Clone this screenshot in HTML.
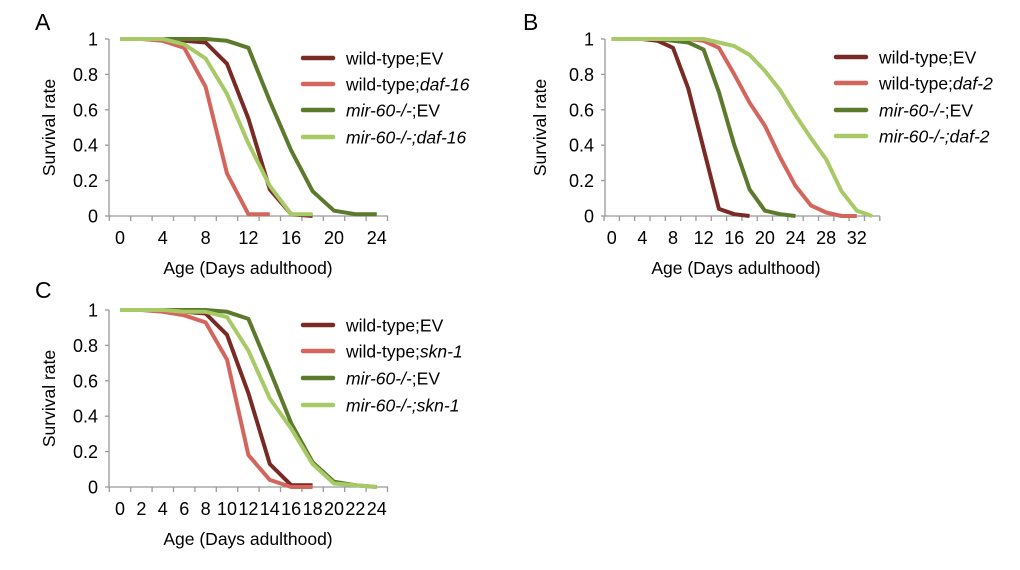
<!DOCTYPE html>
<html><head><meta charset="utf-8">
<style>
html,body{margin:0;padding:0;background:#fff;}
svg{display:block;font-family:"Liberation Sans",Arial,sans-serif;}
</style></head>
<body>
<svg id="fig" width="1020" height="570" viewBox="0 0 1020 570"></svg>
<script>
// ---- Panel A data (days adulthood, survival) ----
const daysA = [0,2,4,6,8,10,12,14,16,18,20,22,24];
const aWtEV    = [1,1,1,0.99,0.98,0.86,0.55,0.15,0.01,0.0,null,null,null];
const aWtDaf16 = [1,1,0.99,0.95,0.73,0.24,0.01,0.01,null,null,null,null,null];
const aMirEV   = [1,1,1,1,1,0.99,0.95,0.65,0.37,0.14,0.03,0.01,0.01];
const aMirDaf16= [1,1,1,0.97,0.89,0.69,0.41,0.17,0.01,0.01,null,null,null];
// ---- Panel B data ----
const daysB = [0,2,4,6,8,10,12,14,16,18,20,22,24,26,28,30,32,34];
const bWtEV    = [1,1,1,0.99,0.95,0.72,0.38,0.04,0.01,0,null,null,null,null,null,null,null,null];
const bWtDaf2  = [1,1,1,1,1,1,0.99,0.95,0.8,0.64,0.51,0.33,0.17,0.06,0.02,0,0,null];
const bMirEV   = [1,1,1,1,0.99,0.98,0.94,0.7,0.4,0.15,0.03,0.01,0,null,null,null,null,null];
const bMirDaf2 = [1,1,1,1,1,1,1,0.98,0.96,0.91,0.82,0.71,0.57,0.44,0.32,0.14,0.03,0];
// ---- Panel C data ----
const daysC = [0,2,4,6,8,10,12,14,16,18,20,22,24];
const cWtEV    = [1,1,1,0.99,0.98,0.86,0.53,0.13,0.01,0.01,null,null,null];
const cWtSkn1  = [1,1,0.99,0.97,0.93,0.72,0.18,0.04,0.0,0.0,null,null,null];
const cMirEV   = [1,1,1,1,1,0.99,0.95,0.66,0.36,0.14,0.03,0.01,0.0];
const cMirSkn1 = [1,1,1,0.99,0.99,0.96,0.77,0.5,0.33,0.13,0.02,0.01,0.0];
const ticksA = [0,4,8,12,16,20,24];
const ticksB = [0,4,8,12,16,20,24,28,32];
const ticksC = [0,2,4,6,8,10,12,14,16,18,20,22,24];
const yTicks = [0,0.2,0.4,0.6,0.8,1];
const yTickLabels = ["0","0.2","0.4","0.6","0.8","1"];

const COLORS = ["#7a2a25","#d3655d","#5b7a2c","#a7c966"];
const NS = "http://www.w3.org/2000/svg";
const svg = document.getElementById("fig");
function mk(tag, attrs, parent){
  const e = document.createElementNS(NS, tag);
  for (const k in attrs) e.setAttribute(k, attrs[k]);
  (parent||svg).appendChild(e);
  return e;
}

function panel(cfg){
  const g = mk("g", {});
  
  
  const xs = d => cfg.x0 + (d) * cfg.pxDay;
  const ys = v => cfg.y0 - v * (cfg.y0 - cfg.y1);
  const L = mk("text", {x:cfg.lx, y:cfg.ly, "font-size":23, fill:"#000"}, g);
  L.textContent = cfg.letter;
  
  
  const ax = mk("g", {stroke:"#999", "stroke-width":1.3, fill:"none"}, g);
  
  
  mk("line", {x1:cfg.axL, y1:cfg.y1, x2:cfg.axL, y2:cfg.y0}, ax);
  mk("line", {x1:cfg.axL, y1:cfg.y0, x2:cfg.axR, y2:cfg.y0}, ax);
  yTicks.forEach((t,i)=>{
    mk("line", {x1:cfg.axL-4, y1:ys(t), x2:cfg.axL, y2:ys(t)}, ax);
    const tl = mk("text", {x:cfg.axL-11, y:ys(t)+6.5, "font-size":18, "text-anchor":"end", fill:"#000", stroke:"none"}, g);
    tl.textContent = yTickLabels[i];
    
    
  });
  for (let d = -1; cfg.x0 + d*cfg.pxDay <= cfg.axR + 0.5; d += 2){
    mk("line", {x1:xs(d), y1:cfg.y0, x2:xs(d), y2:cfg.y0+5}, ax);
  }
  cfg.ticks.forEach(t=>{
    const tl = mk("text", {x:xs(t), y:cfg.y0+28, "font-size":cfg.tickFs, "text-anchor":"middle", fill:"#000"}, g);
    tl.textContent = String(t);
    
    
  });
  const xt = mk("text", {x:cfg.xtx, y:cfg.y0+58, "font-size":17.5, "text-anchor":"middle", fill:"#000"}, g);
  xt.textContent = "Age (Days adulthood)";
  
  
  const ycy = (cfg.y0+cfg.y1)/2;
  const yt = mk("text", {x:cfg.ytx, y:ycy, "font-size":17.5, "text-anchor":"middle", fill:"#000", transform:`rotate(-90 ${cfg.ytx} ${ycy})`}, g);
  yt.textContent = "Survival rate";
  
  
  cfg.series.forEach((s,i)=>{
    const pts = [];
    cfg.days.forEach((d,j)=>{ if (s.vals[j]!==null && s.vals[j]!==undefined) pts.push(xs(d).toFixed(1)+","+ys(s.vals[j]).toFixed(1)); });
    const pl = mk("polyline", {points:pts.join(" "), fill:"none", stroke:COLORS[i], "stroke-width":4, "stroke-linejoin":"round"}, g);
    
    
    const ly = cfg.legY[i];
    const ll = mk("line", {x1:cfg.legX, y1:ly, x2:cfg.legX+30, y2:ly, stroke:COLORS[i], "stroke-width":4.5, "stroke-linecap":"round"}, g);
    
    
    const lt = mk("text", {x:cfg.legX+43, y:ly+6.5, "font-size":17.5, fill:"#000"}, g);
    
    
    const a = mk("tspan", {"font-style": s.italA ? "italic":"normal"}, lt); a.textContent = s.a;
    const b = mk("tspan", {"font-style": s.italB ? "italic":"normal"}, lt); b.textContent = s.b;
  });
}

function names(gene, sets){
  return [
    {a:"wild-type;", b:"EV", italA:false, italB:false, vals:sets[0]},
    {a:"wild-type;", b:gene, italA:false, italB:true, vals:sets[1]},
    {a:"mir-60-/-", b:";EV", italA:true, italB:false, vals:sets[2]},
    {a:"mir-60-/-;", b:gene, italA:true, italB:true, vals:sets[3]}
  ];
}

panel({letter:"A", lx:35, ly:30, x0:120, pxDay:10.7, y0:216, y1:39, axL:109, axR:388,
  ticks:ticksA, tickFs:18, days:daysA, xtx:248, ytx:55,
  legX:303, legY:[58,84,110,137],
  series:names("daf-16",[aWtEV,aWtDaf16,aMirEV,aMirDaf16])});
panel({letter:"B", lx:523, ly:30, x0:611.7, pxDay:7.66, y0:216, y1:39, axL:605, axR:880,
  ticks:ticksB, tickFs:18, days:daysB, xtx:736, ytx:546,
  legX:836, legY:[57,83,110,136],
  series:names("daf-2",[bWtEV,bWtDaf2,bMirEV,bMirDaf2])});
panel({letter:"C", lx:35, ly:298, x0:120, pxDay:10.7, y0:487, y1:310, axL:109, axR:388,
  ticks:ticksC, tickFs:18, days:daysC, xtx:248, ytx:55,
  legX:303, legY:[325,351,378,405],
  series:names("skn-1",[cWtEV,cWtSkn1,cMirEV,cMirSkn1])});
</script>
</body></html>
